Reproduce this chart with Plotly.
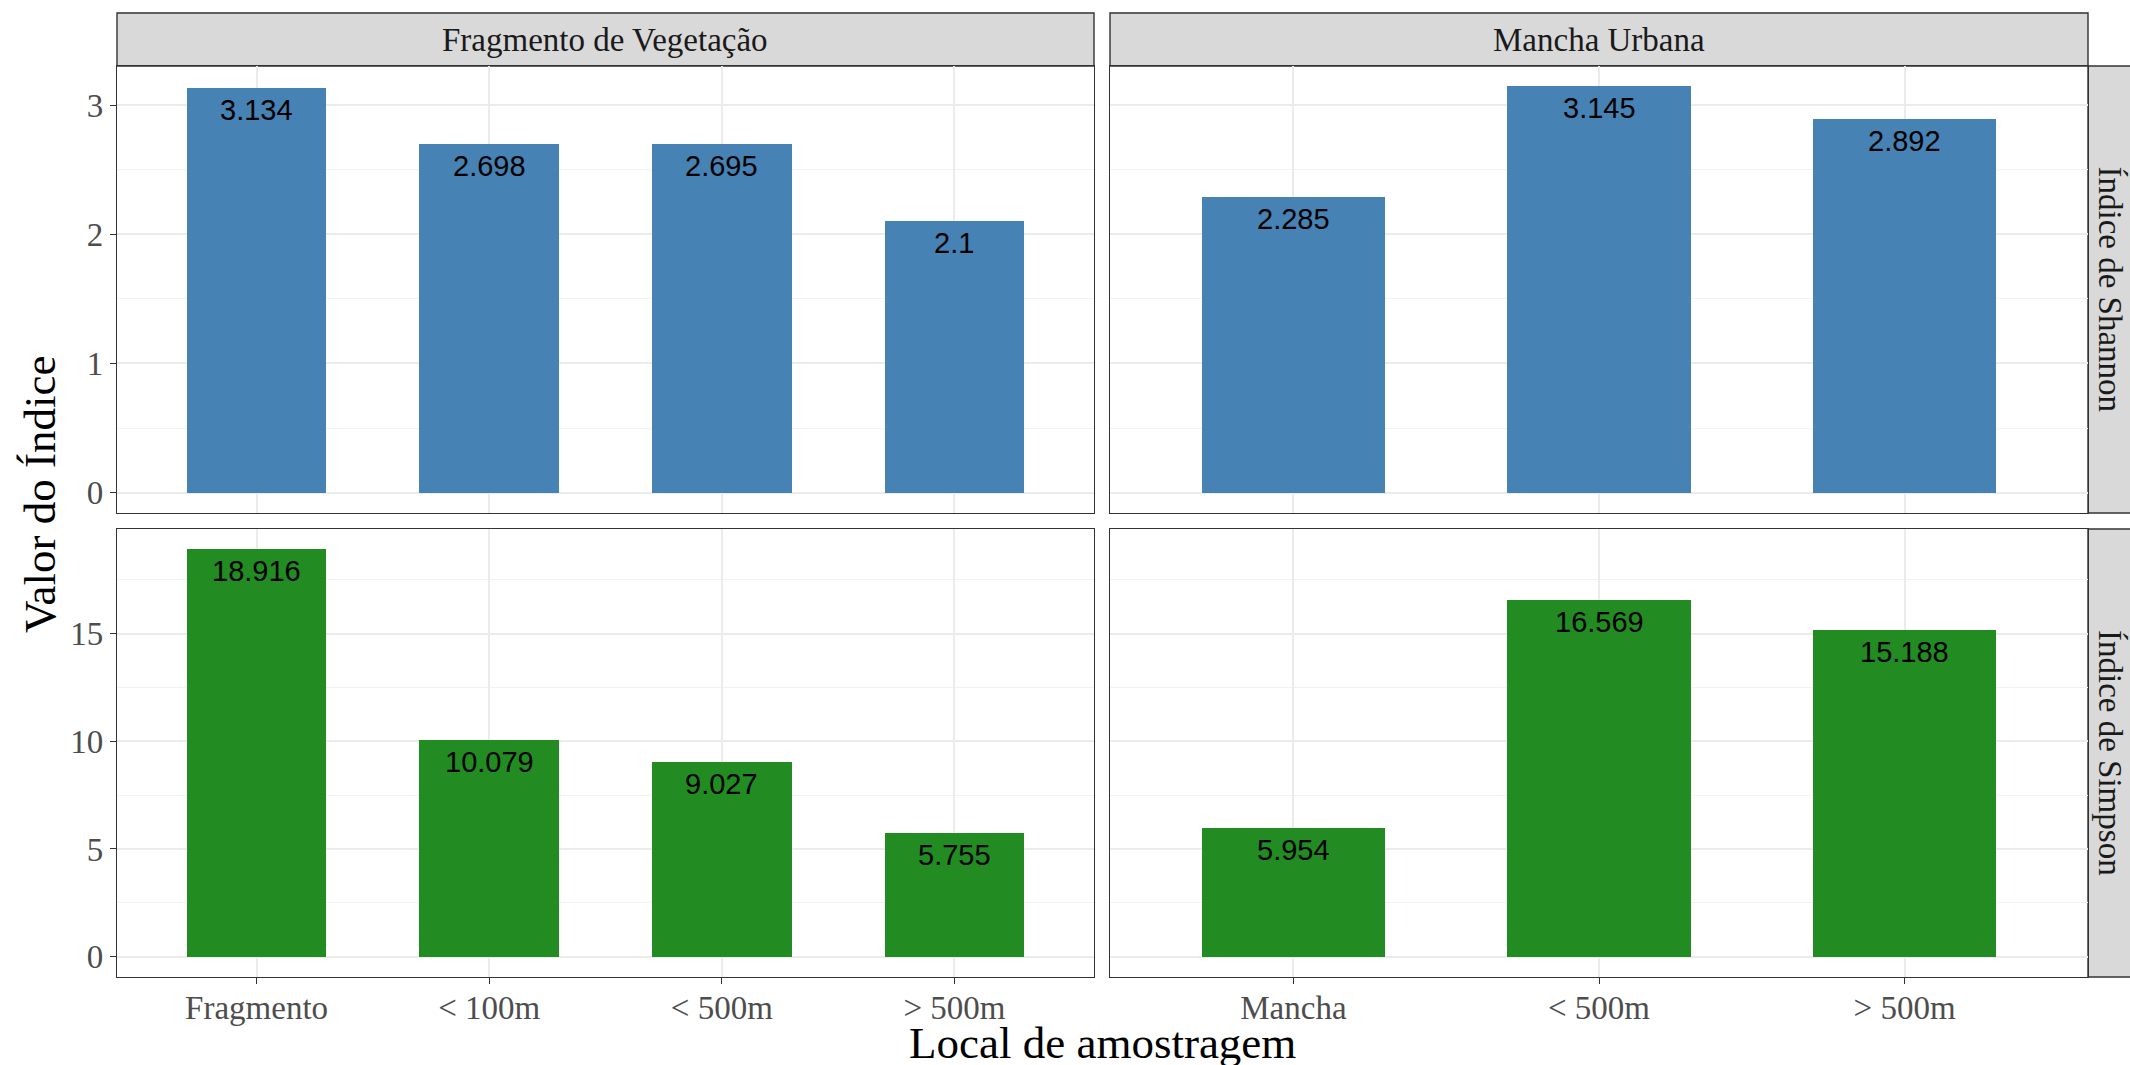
import plotly.graph_objects as go

W, H = 2130, 1065

# ---------------- data ----------------
groups = ["Fragmento de Vegetação", "Mancha Urbana"]
indices = ["Índice de Shannon", "Índice de Simpson"]
cats_veg = ["Fragmento", "< 100m", "< 500m", "> 500m"]
cats_urb = ["Mancha", "< 500m", "> 500m"]
shannon_veg = [3.134, 2.698, 2.695, 2.1]
shannon_urb = [2.285, 3.145, 2.892]
simpson_veg = [18.916, 10.079, 9.027, 5.755]
simpson_urb = [5.954, 16.569, 15.188]
index_colors = ["#4682B4", "#228B22"]
y_dtick = [1, 5]
x_title = "Local de amostragem"
y_title = "Valor do Índice"

# ---------------- layout geometry (pixels) ----------------
cols_px = [(117, 1094), (1110, 2088)]
rows_px = [(66, 513), (529, 977)]
strip_top = (13, 66)
strip_right = (2088, 2141)

def px_x(v):
    return v / W

def px_y(v):
    return 1 - v / H

FONT_SERIF = "Liberation Serif, Times New Roman, serif"
FONT_SANS = "Liberation Sans, Arial, sans-serif"
GRID = "#EBEBEB"
BORDER = "#333333"

fig = go.Figure()

panel_data = [
    [(cats_veg, shannon_veg), (cats_urb, shannon_urb)],
    [(cats_veg, simpson_veg), (cats_urb, simpson_urb)],
]

annotations = []
shapes = []

for r in range(2):
    row_vals = panel_data[r][0][1] + panel_data[r][1][1]
    vmax = max(row_vals)
    yr = [-0.05 * vmax, vmax * 1.05]
    for c in range(2):
        idx = r * 2 + c + 1
        cats, vals = panel_data[r][c]
        xa = "x" if idx == 1 else f"x{idx}"
        ya = "y" if idx == 1 else f"y{idx}"
        fig.add_trace(go.Bar(
            x=cats, y=vals, width=0.6,
            marker=dict(color=index_colors[r], line=dict(width=0)),
            xaxis=xa, yaxis=ya, showlegend=False, hoverinfo="x+y",
        ))
        for cat, v in zip(cats, vals):
            annotations.append(dict(
                x=cat, y=v, xref=xa, yref=ya, text=f"{v:g}",
                showarrow=False, yanchor="middle", xanchor="center",
                yshift=-22, font=dict(family=FONT_SANS, size=29, color="black"),
            ))
        x0, x1 = cols_px[c]
        y0, y1 = rows_px[r]
        xkey = "xaxis" if idx == 1 else f"xaxis{idx}"
        ykey = "yaxis" if idx == 1 else f"yaxis{idx}"
        bottom = (r == 1)
        left = (c == 0)
        fig.layout[xkey] = dict(
            domain=[px_x(x0), px_x(x1)], anchor=ya,
            type="category", categoryorder="array", categoryarray=cats,
            range=[-0.6, len(cats) - 0.4],
            showgrid=True, gridcolor=GRID, gridwidth=2,
            showline=True, linecolor=BORDER, linewidth=1.4, mirror=True,
            ticks="outside" if bottom else "", ticklen=6, tickwidth=1.4, tickcolor=BORDER,
            showticklabels=bottom, ticklabelstandoff=-5,
            tickfont=dict(family=FONT_SERIF, size=33, color="#4D4D4D"),
            zeroline=False, fixedrange=True,
        )
        fig.layout[ykey] = dict(
            domain=[px_y(y1), px_y(y0)], anchor=xa,
            range=yr, dtick=y_dtick[r], tick0=0,
            showgrid=True, gridcolor=GRID, gridwidth=2,
            minor=dict(dtick=y_dtick[r] / 2, tick0=0, showgrid=True, gridcolor="#F2F2F2", gridwidth=1.2, ticks=""),
            showline=True, linecolor=BORDER, linewidth=1.4, mirror=True,
            ticks="outside" if left else "", ticklen=6, tickwidth=1.4, tickcolor=BORDER,
            showticklabels=left,
            tickfont=dict(family=FONT_SERIF, size=33, color="#4D4D4D"),
            zeroline=False, fixedrange=True,
        )

# top strips
for c in range(2):
    x0, x1 = cols_px[c]
    shapes.append(dict(type="rect", xref="paper", yref="paper",
                       x0=px_x(x0), x1=px_x(x1), y0=px_y(strip_top[1]), y1=px_y(strip_top[0]),
                       fillcolor="#D9D9D9", line=dict(color=BORDER, width=1.4), layer="below"))
    annotations.append(dict(x=px_x((x0 + x1) / 2), y=px_y((strip_top[0] + strip_top[1]) / 2),
                            xref="paper", yref="paper", text=groups[c], showarrow=False,
                            xanchor="center", yanchor="middle",
                            font=dict(family=FONT_SERIF, size=33, color="#1A1A1A")))
# right strips
for r in range(2):
    y0, y1 = rows_px[r]
    shapes.append(dict(type="rect", xref="paper", yref="paper",
                       x0=px_x(strip_right[0]), x1=px_x(strip_right[1]), y0=px_y(y1), y1=px_y(y0),
                       fillcolor="#D9D9D9", line=dict(color=BORDER, width=1.4), layer="below"))
    annotations.append(dict(x=px_x(2110), y=px_y((y0 + y1) / 2),
                            xref="paper", yref="paper", text=indices[r], showarrow=False,
                            textangle=90, xanchor="center", yanchor="middle",
                            font=dict(family=FONT_SERIF, size=33, color="#1A1A1A")))

# axis titles
annotations.append(dict(x=px_x((cols_px[0][0] + cols_px[1][1]) / 2), y=px_y(1043),
                        xref="paper", yref="paper", text=x_title, showarrow=False,
                        xanchor="center", yanchor="middle",
                        font=dict(family=FONT_SERIF, size=45, color="black")))
annotations.append(dict(x=px_x(40), y=px_y((strip_top[0] + rows_px[1][1]) / 2),
                        xref="paper", yref="paper", text=y_title, showarrow=False,
                        textangle=-90, xanchor="center", yanchor="middle",
                        font=dict(family=FONT_SERIF, size=45, color="black")))

fig.update_layout(
    width=W, height=H,
    margin=dict(l=0, r=0, t=0, b=0),
    paper_bgcolor="white", plot_bgcolor="white",
    bargap=0, showlegend=False,
    annotations=annotations, shapes=shapes,
)

fig.write_html(
    "out.html",
    config={"displayModeBar": False},
    post_script="document.body.style.margin='0px';document.body.style.overflow='hidden';",
)
